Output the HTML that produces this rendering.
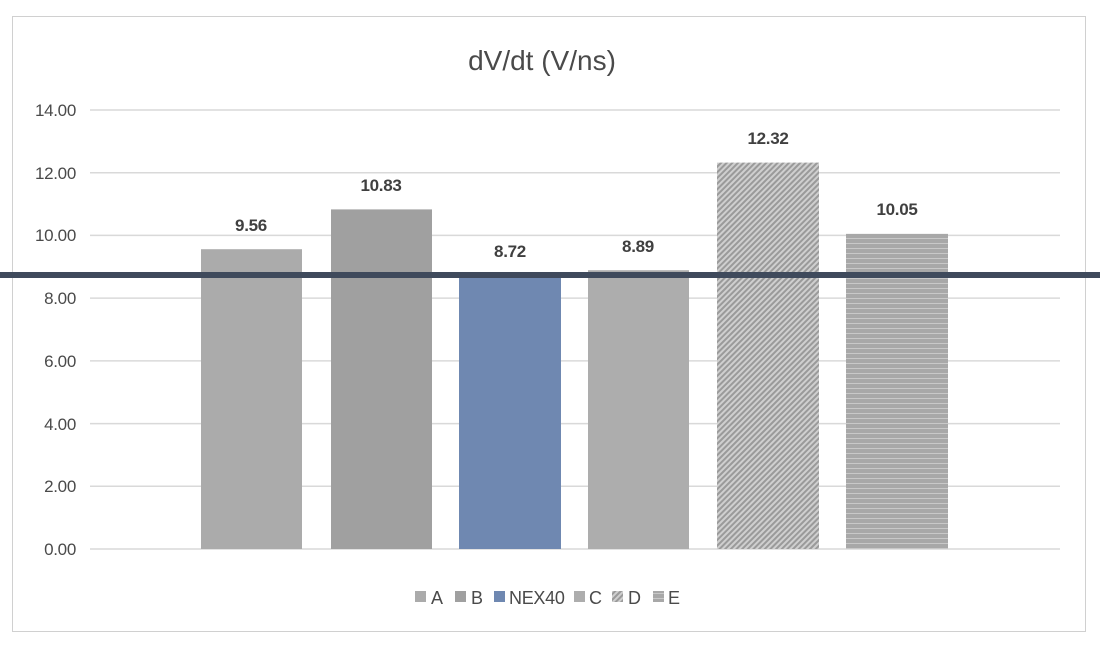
<!DOCTYPE html>
<html><head><style>
body{margin:0;background:#fff;}
svg{display:block;font-family:"Liberation Sans",sans-serif;}
</style></head><body>
<svg width="1100" height="652" viewBox="0 0 1100 652">
<defs>
<pattern id="diag" width="4" height="4" patternUnits="userSpaceOnUse" patternTransform="rotate(45)">
<rect width="4" height="4" fill="#cfcfcf"/><rect width="2" height="4" fill="#9a9a9a"/>
</pattern>
<pattern id="horiz" width="10" height="5" patternUnits="userSpaceOnUse">
<rect width="10" height="5" fill="#a8a8a8"/><rect y="3" width="10" height="1" fill="#c8c8c8"/>
</pattern>
</defs>
<rect x="12.5" y="16.5" width="1073" height="615" fill="#fff" stroke="#d0d0d0"/>
<text x="542" y="70" font-size="28" fill="#4a4a4a" text-anchor="middle">dV/dt (V/ns)</text>
<g stroke="#d9d9d9" stroke-width="1.5">
<line x1="90" x2="1060" y1="110" y2="110"/>
<line x1="90" x2="1060" y1="172.7" y2="172.7"/>
<line x1="90" x2="1060" y1="235.4" y2="235.4"/>
<line x1="90" x2="1060" y1="298.1" y2="298.1"/>
<line x1="90" x2="1060" y1="360.9" y2="360.9"/>
<line x1="90" x2="1060" y1="423.6" y2="423.6"/>
<line x1="90" x2="1060" y1="486.3" y2="486.3"/>
<line x1="90" x2="1060" y1="549" y2="549"/>
</g>
<g font-size="17" fill="#4a4a4a" text-anchor="end" letter-spacing="-0.3">
<text x="76" y="116">14.00</text>
<text x="76" y="179">12.00</text>
<text x="76" y="241">10.00</text>
<text x="76" y="304">8.00</text>
<text x="76" y="367">6.00</text>
<text x="76" y="430">4.00</text>
<text x="76" y="492">2.00</text>
<text x="76" y="555">0.00</text>
</g>
<rect x="201" y="249.2" width="101" height="299.8" fill="#ababab"/>
<rect x="331" y="209.4" width="101" height="339.6" fill="#a0a0a0"/>
<rect x="459" y="275.5" width="102" height="273.5" fill="#6f88b1"/>
<rect x="588" y="270.2" width="101" height="278.8" fill="#adadad"/>
<rect x="717" y="162.6" width="102" height="386.4" fill="url(#diag)"/>
<rect x="846" y="233.8" width="102" height="315.2" fill="url(#horiz)"/>
<g font-size="17" fill="#404040" text-anchor="middle" font-weight="bold" letter-spacing="-0.3">
<text x="251" y="231">9.56</text>
<text x="381" y="191">10.83</text>
<text x="510" y="257">8.72</text>
<text x="638" y="252">8.89</text>
<text x="768" y="144">12.32</text>
<text x="897" y="215">10.05</text>
</g>
<rect x="0" y="272" width="1100" height="6" fill="#3f4a5c"/>
<g font-size="18" fill="#4a4a4a" letter-spacing="-0.3">
<rect x="415" y="591" width="11" height="11" fill="#ababab"/><text x="431" y="604">A</text>
<rect x="455" y="591" width="11" height="11" fill="#a0a0a0"/><text x="471" y="604">B</text>
<rect x="494" y="591" width="11" height="11" fill="#6f88b1"/><text x="509" y="604">NEX40</text>
<rect x="574" y="591" width="11" height="11" fill="#adadad"/><text x="589" y="604">C</text>
<rect x="612" y="591" width="11" height="11" fill="url(#diag)"/><text x="628" y="604">D</text>
<rect x="653" y="591" width="11" height="11" fill="url(#horiz)"/><text x="668" y="604">E</text>
</g>
</svg>
</body></html>
